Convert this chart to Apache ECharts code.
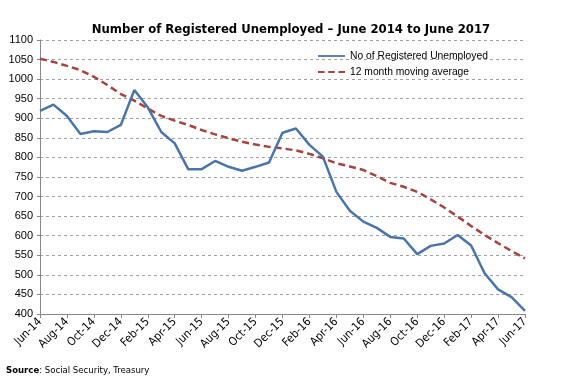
<!DOCTYPE html>
<html><head><meta charset="utf-8">
<script src="https://cdn.jsdelivr.net/npm/echarts@6/dist/echarts.min.js"></script>
<style>html,body{margin:0;padding:0;background:#fff}#c{width:570px;height:388px}</style>
</head><body><div id="c"></div>
<script>
const categories = ["Jun-14","Jul-14","Aug-14","Sep-14","Oct-14","Nov-14","Dec-14","Jan-15","Feb-15","Mar-15","Apr-15","May-15","Jun-15","Jul-15","Aug-15","Sep-15","Oct-15","Nov-15","Dec-15","Jan-16","Feb-16","Mar-16","Apr-16","May-16","Jun-16","Jul-16","Aug-16","Sep-16","Oct-16","Nov-16","Dec-16","Jan-17","Feb-17","Mar-17","Apr-17","May-17","Jun-17"];
const registered = [919,935,906,860,867,865,883,972,928,865,836,770,770,791,776,766,776,787,863,874,832,802,712,664,636,620,597,593,553,574,580,602,575,504,463,443,408];
const movingAvg = [1052,1044,1034,1023,1006,985,962,945,925,906,894,883,870,859,849,840,833,827,823,818,809,798,785,777,768,752,735,725,712,693,672,649,625,602,581,561,542];
const seriesNames = ["No of Registered Unemployed","12 month moving average"];

const chart = echarts.init(document.getElementById('c'), null, {renderer:'canvas'});
chart.setOption({
  animation:false,
  backgroundColor:'#fff',
  title:{text:'Number of Registered Unemployed \u2013 June 2014 to June 2017',left:286,textAlign:'center',top:19,
    textStyle:{fontFamily:'DejaVu Sans',fontWeight:'bold',fontSize:11.7,color:'#000'}},
  graphic:[{type:'text',left:6,top:366,style:{rich:{b:{fontWeight:'bold',fontFamily:'DejaVu Sans Condensed, DejaVu Sans',fontSize:9.5,fill:'#000'},n:{fontFamily:'DejaVu Sans Condensed, DejaVu Sans',fontSize:9.5,fill:'#000'}},text:'{b|Source}{n|: Social Security, Treasury}'}}],
  legend:{orient:'vertical',left:313,top:46,itemWidth:27,itemHeight:10,itemGap:6,
    textStyle:{fontFamily:'Liberation Sans',fontSize:10.3,color:'#000'},
    data:[{name:seriesNames[0],icon:'path://M0,4L30,4L30,6L0,6Z'},{name:seriesNames[1],icon:'path://M0,4L7,4L7,6L0,6ZM11,4L18,4L18,6L11,6ZM22,4L29,4L29,6L22,6Z'}]},
  grid:{left:40,right:45,top:40,bottom:74},
  xAxis:{type:'category',data:categories,boundaryGap:false,
    axisLine:{lineStyle:{color:'#888',width:1}},
    axisTick:{show:true,interval:1,length:4,lineStyle:{color:'#888'}},
    axisLabel:{interval:1,rotate:45,fontFamily:'DejaVu Sans Condensed, DejaVu Sans',fontSize:11.5,color:'#000',margin:6}},
  yAxis:{type:'value',min:400,max:1100,interval:50,
    axisLine:{show:true,lineStyle:{color:'#888'}},
    axisTick:{show:true,length:3,lineStyle:{color:'#888'}},
    axisLabel:{fontFamily:'Liberation Sans',fontSize:11,color:'#000',margin:7,formatter:function(v){return String(v);}},
    splitLine:{lineStyle:{color:'#a0a0a0',type:[3,3],width:1}}},
  series:[
    {name:seriesNames[0],type:'line',data:registered,symbol:'none',lineStyle:{color:'#4A75AB',width:2.5},itemStyle:{color:'#4A75AB'},z:3},
    {name:seriesNames[1],type:'line',data:movingAvg,symbol:'none',lineStyle:{color:'#A8423F',width:2.5,type:[7,4]},itemStyle:{color:'#A8423F'},z:2}
  ]
});
</script></body></html>
